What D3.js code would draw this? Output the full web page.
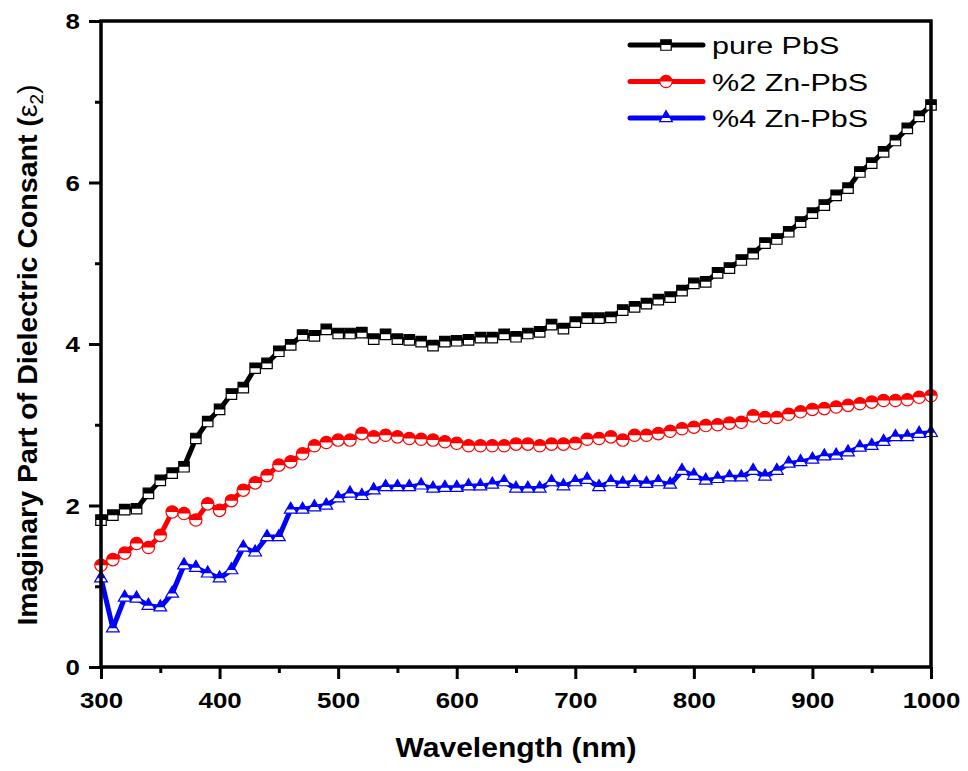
<!DOCTYPE html>
<html>
<head>
<meta charset="utf-8">
<script src="https://cdn.jsdelivr.net/npm/d3@7"></script>
<style>
  body { margin: 0; background: #fff; }
  svg { display: block; font-family: "Liberation Sans", Arial, sans-serif; }
</style>
</head>
<body>
<svg id="chart"></svg>
<script>
// wavelengths 300..1000 nm, one reading every 10 nm
const wavelengths = d3.range(300, 1001, 10);

const purePbS = [
  1.82, 1.88, 1.95, 1.96, 2.15, 2.31, 2.40, 2.48, 2.83, 3.04,
  3.19, 3.38, 3.46, 3.70, 3.76, 3.91, 3.99, 4.11, 4.10, 4.18,
  4.13, 4.13, 4.14, 4.06, 4.12, 4.06, 4.05, 4.03, 3.98, 4.03,
  4.04, 4.05, 4.08, 4.08, 4.12, 4.09, 4.13, 4.15, 4.24, 4.19,
  4.27, 4.32, 4.32, 4.33, 4.42, 4.46, 4.50, 4.55, 4.58, 4.66,
  4.75, 4.77, 4.88, 4.94, 5.04, 5.12, 5.25, 5.30, 5.39, 5.51,
  5.62, 5.72, 5.84, 5.93, 6.13, 6.24, 6.38, 6.52, 6.67, 6.82,
  6.96
];

const zn2PbS = [
  1.26, 1.33, 1.41, 1.53, 1.48, 1.63, 1.92, 1.90, 1.82, 2.02,
  1.94, 2.06, 2.19, 2.28, 2.37, 2.50, 2.54, 2.64, 2.74, 2.78,
  2.81, 2.81, 2.89, 2.85, 2.87, 2.85, 2.83, 2.82, 2.81, 2.79,
  2.77, 2.74, 2.74, 2.74, 2.74, 2.76, 2.76, 2.74, 2.76, 2.76,
  2.77, 2.82, 2.83, 2.85, 2.81, 2.87, 2.87, 2.89, 2.92, 2.95,
  2.97, 2.99, 3.00, 3.02, 3.03, 3.11, 3.09, 3.09, 3.13, 3.16,
  3.19, 3.20, 3.22, 3.24, 3.26, 3.28, 3.30, 3.30, 3.31, 3.34,
  3.36
];

const zn4PbS = [
  1.10, 0.48, 0.86, 0.85, 0.76, 0.74, 0.91, 1.26, 1.23, 1.16,
  1.10, 1.20, 1.48, 1.42, 1.61, 1.61, 1.95, 1.95, 1.98, 2.00,
  2.09, 2.15, 2.12, 2.19, 2.23, 2.23, 2.23, 2.25, 2.21, 2.22,
  2.22, 2.24, 2.24, 2.26, 2.29, 2.21, 2.21, 2.21, 2.29, 2.24,
  2.29, 2.32, 2.23, 2.29, 2.27, 2.29, 2.27, 2.29, 2.26, 2.43,
  2.37, 2.31, 2.33, 2.35, 2.35, 2.43, 2.36, 2.43, 2.52, 2.54,
  2.57, 2.61, 2.62, 2.66, 2.72, 2.74, 2.79, 2.85, 2.85, 2.89,
  2.90
];

const seriesNames = ["pure PbS", "%2 Zn-PbS", "%4 Zn-PbS"];
const seriesValues = [purePbS, zn2PbS, zn4PbS];
const seriesColors = ["#000000", "#ff0000", "#0000ff"];
const seriesSymbols = [d3.symbolSquare, d3.symbolCircle, d3.symbolTriangle];
const symbolSizes = [110, 120, 70];

const xTicks = [300, 400, 500, 600, 700, 800, 900, 1000];
const yTicks = [0, 2, 4, 6, 8];

class LineChart {

    constructor( config ) {
        this.config = {
            parent: config.parent,
            width: config.width || 968,
            height: config.height || 771,
            margin: config.margin || {top:21, right:37, bottom:104, left:101},
        }
        this.init();
    }

    init() {
        let self = this;

        self.svg = d3.select( self.config.parent )
            .attr('width', self.config.width)
            .attr('height', self.config.height);

        self.inner_width = self.config.width - self.config.margin.left - self.config.margin.right;
        self.inner_height = self.config.height - self.config.margin.top - self.config.margin.bottom;

        // top half clip for the half filled markers
        self.svg.append('defs').append('clipPath')
            .attr('id', 'tophalf')
            .append('rect')
            .attr('x', -12).attr('y', -12)
            .attr('width', 24).attr('height', 12);

        self.chart = self.svg.append('g')
            .attr('transform', `translate(${self.config.margin.left}, ${self.config.margin.top})`);

        self.xscale = d3.scaleLinear()
            .domain( [300, 1000] )
            .range( [0, self.inner_width] );

        self.yscale = d3.scaleLinear()
            .domain( [0, 8] )
            .range( [self.inner_height, 0] );
    }

    marker( g, i ) {
        const sym = d3.symbol().type(seriesSymbols[i]).size(symbolSizes[i]);
        g.append('path')
            .attr('d', sym)
            .attr('fill', '#fff')
            .attr('stroke', seriesColors[i])
            .attr('stroke-width', 1.2);
        g.append('path')
            .attr('d', sym)
            .attr('fill', seriesColors[i])
            .attr('clip-path', 'url(#tophalf)');
    }

    render() {
        let self = this;

        // minor ticks
        self.chart.append('g')
            .attr('transform', `translate(0, ${self.inner_height})`)
            .call( d3.axisBottom(self.xscale).tickValues(d3.range(350, 1000, 100)).tickSize(6).tickFormat('') )
            .call( g => g.select('.domain').remove() );
        self.chart.append('g')
            .call( d3.axisLeft(self.yscale).tickValues([1, 3, 5, 7]).tickSize(6).tickFormat('') )
            .call( g => g.select('.domain').remove() );

        // major ticks with labels
        const xaxis_group = self.chart.append('g')
            .attr('transform', `translate(0, ${self.inner_height})`)
            .call( d3.axisBottom(self.xscale).tickValues(xTicks).tickSize(12).tickPadding(13).tickFormat(d3.format('d')) )
            .call( g => g.select('.domain').remove() );
        const yaxis_group = self.chart.append('g')
            .call( d3.axisLeft(self.yscale).tickValues(yTicks).tickSize(12).tickFormat(d3.format('d')) )
            .call( g => g.select('.domain').remove() );

        self.chart.selectAll('.tick line')
            .attr('stroke', '#000')
            .attr('stroke-width', 3);

        xaxis_group.selectAll('text')
            .attr('font-size', '22.5px')
            .attr('font-weight', 'bold')
            .attr('font-family', '"Liberation Sans", Arial, sans-serif')
            .attr('fill', '#000')
            .attr('transform', 'scale(1.15,1)');
        yaxis_group.selectAll('text')
            .attr('x', -21 / 1.15)
            .attr('dy', '0.35em')
            .attr('font-size', '22.5px')
            .attr('font-weight', 'bold')
            .attr('font-family', '"Liberation Sans", Arial, sans-serif')
            .attr('fill', '#000')
            .attr('transform', 'scale(1.15,1)');

        // lines and markers
        const line = d3.line()
            .x( (d, j) => self.xscale( wavelengths[j] ) )
            .y( d => self.yscale( d ) );

        seriesValues.forEach( (vals, i) => {
            self.chart.append('path')
                .datum(vals)
                .attr('d', line)
                .attr('fill', 'none')
                .attr('stroke', seriesColors[i])
                .attr('stroke-width', 5)
                .attr('stroke-linejoin', 'round');

            self.chart.append('g')
                .selectAll('g')
                .data(vals)
                .join('g')
                .attr('transform', (d, j) => `translate(${self.xscale(wavelengths[j])}, ${self.yscale(d)})`)
                .each( function() { self.marker( d3.select(this), i ); } );
        });

        // frame
        self.chart.append('rect')
            .attr('width', self.inner_width)
            .attr('height', self.inner_height)
            .attr('fill', 'none')
            .attr('stroke', '#000')
            .attr('stroke-width', 3.5);

        // legend
        const legend = self.svg.append('g');
        seriesNames.forEach( (name, i) => {
            const ly = 45 + i * 36.5;
            legend.append('line')
                .attr('x1', 630).attr('x2', 703)
                .attr('y1', ly).attr('y2', ly)
                .attr('stroke', seriesColors[i])
                .attr('stroke-width', 5)
                .attr('stroke-linecap', 'round');
            const mg = legend.append('g').attr('transform', `translate(666, ${ly})`);
            self.marker( mg, i );
            legend.append('text')
                .attr('transform', `translate(712, ${ly + 9}) scale(1.3,1)`)
                .attr('font-size', '23.5px')
                .attr('fill', '#000')
                .text(name);
        });

        // axis titles
        self.svg.append('text')
            .attr('transform', `translate(516, 757) scale(1.075,1)`)
            .attr('text-anchor', 'middle')
            .attr('font-size', '28px')
            .attr('font-weight', 'bold')
            .text('Wavelength (nm)');

        const ytitle = self.svg.append('text')
            .attr('transform', `translate(37, 355) rotate(-90)`)
            .attr('text-anchor', 'middle')
            .attr('font-size', '28.5px')
            .attr('font-weight', 'bold');
        ytitle.append('tspan').text('Imaginary Part of Dielectric Consant (');
        ytitle.append('tspan').attr('font-weight', 'normal').text('\u03b5');
        ytitle.append('tspan').attr('font-weight', 'normal').attr('font-size', '19px').attr('dy', 6).text('2');
        ytitle.append('tspan').attr('font-weight', 'normal').attr('dy', -6).text(')');
    }
}

const chart = new LineChart({ parent: '#chart' });
chart.render();
</script>
</body>
</html>
